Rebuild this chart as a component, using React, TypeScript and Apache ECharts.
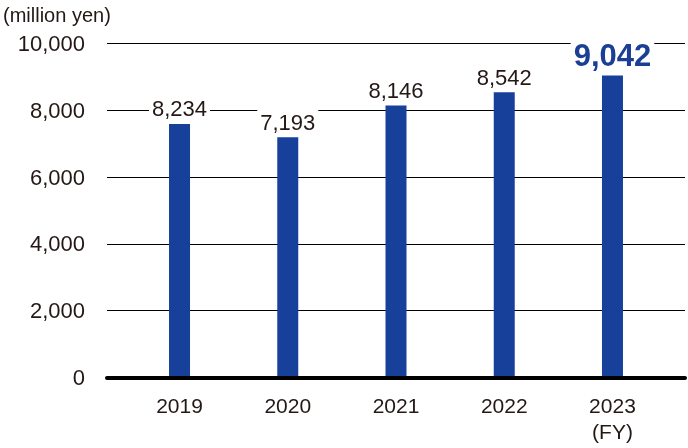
import React, { useEffect, useRef } from "react";
import * as echarts from "echarts";

const categories = ["2019", "2020", "2021", "2022", "2023"];
const barValues = [7590, 7193, 8146, 8542, 9042];
const labelTexts = ["8,234", "7,193", "8,146", "8,542", "9,042"];
const yTicks = [0, 2000, 4000, 6000, 8000, 10000];
const unitLabel = "(million yen)";
const fyNote = "(FY)";

const FONT = "'Liberation Sans', Arial, Helvetica, sans-serif";
const TEXT = "#231815";
const BAR = "#16409a";
const HIGHLIGHT = "#1b3f95";

export default function App() {
  const ref = useRef<HTMLDivElement>(null);
  useEffect(() => {
    if (!ref.current) return;
    const chart = echarts.init(ref.current, undefined, { renderer: "svg" });
    const last = categories.length - 1;
    const data = barValues.map((v, i) => {
      const item: any = { value: v };
      if (i === last) {
        item.label = {
          fontSize: 31,
          fontWeight: "bold",
          color: HIGHLIGHT,
        };
      }
      return item;
    });
    chart.setOption({
      animation: false,
      textStyle: { fontFamily: FONT },
      graphic: [
        {
          type: "text",
          left: 3,
          top: 5,
          style: { text: unitLabel, fontSize: 20, fill: TEXT, fontFamily: FONT },
        },
      ],
      grid: [
        { left: 107, right: 3, top: 43.5, bottom: 70.5 },
        { left: 125.4, right: 21.4, top: 43.5, bottom: 70.5 },
      ],
      xAxis: [
        {
          gridIndex: 0,
          type: "value",
          min: 0,
          max: 1,
          z: 5,
          axisLine: { show: true, lineStyle: { color: "#000", width: 4 } },
          axisTick: { show: false },
          axisLabel: { show: false },
          splitLine: { show: false },
        },
        {
          gridIndex: 1,
          type: "category",
          data: categories,
          axisLine: { show: false },
          axisTick: { show: false },
          axisLabel: {
            color: TEXT,
            fontSize: 21,
            lineHeight: 26,
            margin: 15,
            fontFamily: FONT,
            formatter: (v: string, i: number) => (i === last ? v + "\n" + fyNote : v),
          },
        },
      ],
      yAxis: [
        {
          gridIndex: 0,
          type: "value",
          min: yTicks[0],
          max: yTicks[yTicks.length - 1],
          interval: yTicks[1] - yTicks[0],
          axisLine: { show: false },
          axisTick: { show: false },
          axisLabel: {
            color: TEXT,
            fontSize: 22,
            margin: 22,
            padding: [4, 0, 0, 0],
            fontFamily: FONT,
            formatter: (v: number) => v.toLocaleString("en-US"),
          },
          splitLine: { lineStyle: { color: "#000", width: 1 } },
        },
        {
          gridIndex: 1,
          type: "value",
          min: yTicks[0],
          max: yTicks[yTicks.length - 1],
          show: false,
          splitLine: { show: false },
        },
      ],
      series: [
        {
          type: "bar",
          xAxisIndex: 1,
          yAxisIndex: 1,
          barWidth: 21,
          itemStyle: { color: BAR },
          data,
          label: {
            show: true,
            position: "top",
            distance: 2,
            color: TEXT,
            fontSize: 22,
            fontFamily: FONT,
            backgroundColor: "#fff",
            padding: [2, 3, 2, 3],
            formatter: (p: any) => labelTexts[p.dataIndex],
          },
        },
      ],
    });
    return () => chart.dispose();
  }, []);
  return (
    <div
      ref={ref}
      style={{ position: "fixed", left: 0, top: 0, width: 688, height: 448 }}
    />
  );
}
